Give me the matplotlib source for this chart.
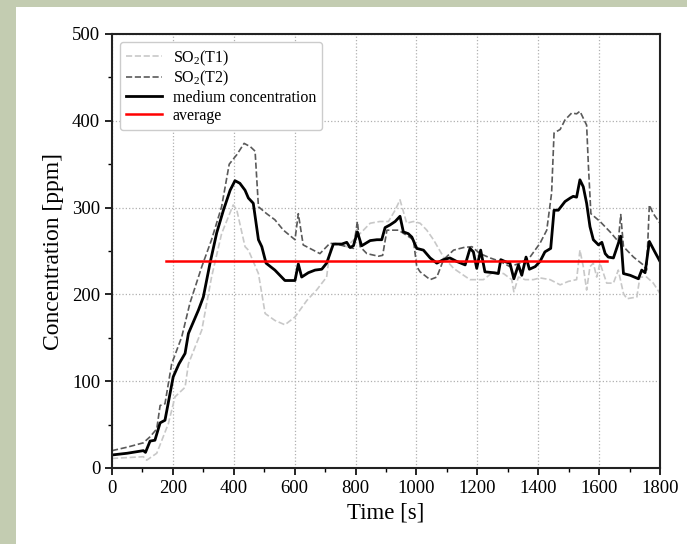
import matplotlib
matplotlib.use("Agg")
import matplotlib.pyplot as plt
from matplotlib.patches import Rectangle

# medium concentration (black solid)
t_mid = [0, 50, 103, 110, 125, 141, 158, 174, 201, 220, 240, 251, 284, 300, 322, 344, 366, 388, 404,
         420, 437, 448, 464, 481, 492, 506, 535, 568, 601, 612, 623, 645, 667, 689, 705, 727, 755, 771,
         782, 793, 806, 820, 848, 870, 886, 897, 913, 930, 946, 957, 973, 985, 1001, 1023, 1045, 1067,
         1088, 1110, 1132, 1160, 1176, 1187, 1198, 1211, 1225, 1253, 1269, 1277, 1297, 1307, 1320, 1335,
         1346, 1360, 1371, 1390, 1406, 1422, 1441, 1452, 1466, 1488, 1505, 1515, 1526, 1537, 1548, 1559,
         1570, 1581, 1598, 1609, 1620, 1630, 1647, 1671, 1680, 1702, 1729, 1740, 1751, 1765, 1783, 1800]
c_mid = [15, 17, 20, 18, 31, 32, 52, 55, 105, 120, 132, 155, 182, 197, 236, 271, 297, 320, 331,
         328, 320, 311, 305, 263, 255, 236, 228, 216, 216, 235, 220, 225, 228, 229, 236, 258, 258, 260,
         254, 256, 272, 256, 262, 263, 263, 277, 280, 284, 290, 272, 270, 266, 253, 251, 242, 236,
         240, 242, 238, 234, 253, 249, 230, 251, 226, 225, 224, 240, 237, 236, 218, 234,
         222, 243, 229, 232, 238, 249, 253, 297, 297, 307, 311, 313, 312, 332, 324, 305,
         278, 263, 257, 260, 247, 243, 242, 267, 224, 222, 218, 228, 225, 261, 249, 238]

# SO2 (T2), dark dashed
t_t2 = [0, 50, 103, 125, 147, 158, 174, 196, 229, 256, 295, 327, 360, 385, 410, 434, 455, 470, 481,
        508, 535, 563, 601, 612, 628, 683, 716, 749, 793, 806, 815, 837, 875, 889, 903, 941, 968, 990,
        1001, 1012, 1045, 1067, 1089, 1122, 1155, 1182, 1209, 1242, 1275, 1307, 1340, 1373, 1406, 1428,
        1444, 1452, 1472, 1488, 1510, 1526, 1537, 1559, 1565, 1573, 1603, 1636, 1663, 1671, 1680, 1713,
        1745, 1756, 1765, 1778, 1800]
c_t2 = [20, 24, 29, 36, 45, 72, 74, 120, 151, 190, 232, 263, 301, 350, 361, 374, 370, 365, 301,
        293, 286, 274, 263, 293, 257, 247, 259, 257, 253, 284, 255, 247, 244, 245, 274, 274, 268, 263,
        232, 226, 217, 220, 240, 251, 254, 255, 247, 242, 238, 232, 236, 243, 259, 274,
        317, 386, 390, 401, 409, 408, 411, 395, 347, 293, 284, 272, 261, 292, 255, 243,
        234, 228, 303, 293, 282]

# SO2 (T1), light dashed
t_t1 = [0, 103, 114, 147, 185, 207, 240, 251, 295, 327, 360, 398, 410, 437, 448, 481, 503, 535, 568,
        601, 640, 672, 705, 716, 733, 771, 826, 848, 880, 908, 930, 946, 968, 990, 1012, 1034, 1056,
        1089, 1122, 1155, 1176, 1220, 1253, 1286, 1313, 1320, 1335, 1357, 1384, 1406, 1439, 1472, 1499,
        1526, 1537, 1548, 1559, 1570, 1581, 1592, 1603, 1625, 1647, 1663, 1680, 1691, 1724, 1734, 1756,
        1778, 1800]
c_t1 = [11, 13, 9, 17, 51, 82, 93, 120, 159, 220, 270, 303, 297, 255, 251, 224, 178, 170, 165,
        174, 193, 205, 220, 251, 259, 255, 274, 282, 284, 284, 297, 309, 282, 284, 282, 274, 263,
        243, 230, 222, 217, 217, 226, 224, 217, 203, 220, 217, 217, 219, 217, 211, 215,
        217, 251, 232, 205, 232, 236, 220, 236, 213, 213, 228, 201, 195, 197, 220, 220,
        213, 201]

avg_value = 238
avg_span = [178, 1625]

plt.rcParams["font.family"] = ["Liberation Serif", "DejaVu Serif"]
plt.rcParams["mathtext.fontset"] = "custom"
plt.rcParams["mathtext.rm"] = "Liberation Serif"
plt.rcParams["mathtext.it"] = "Liberation Serif:italic"

fig = plt.figure(figsize=(6.87, 5.44), dpi=100)
# greenish page border seen on the left and top
fig.patches.append(Rectangle((0, 0), 16 / 687, 1, transform=fig.transFigure,
                             facecolor="#c3ccb1", edgecolor="none", zorder=0))
fig.patches.append(Rectangle((0, 1 - 7 / 544), 1, 7 / 544, transform=fig.transFigure,
                             facecolor="#c3ccb1", edgecolor="none", zorder=0))

ax = fig.add_axes([112 / 687, 76 / 544, 548 / 687, 434 / 544])
ax.plot(t_t1, c_t1, ls="--", color="#c8c8c8", lw=1.2, label="SO$_2$(T1)")
ax.plot(t_t2, c_t2, ls="--", color="#5a5a5a", lw=1.2, label="SO$_2$(T2)")
ax.plot(t_mid, c_mid, color="black", lw=2.0, label="medium concentration")
ax.plot(avg_span, [avg_value, avg_value], color="red", lw=1.8, label="average")

ax.set_xlim(0, 1800)
ax.set_ylim(0, 500)
ax.set_xticks(range(0, 1801, 200))
ax.set_xticks(range(0, 1801, 100), minor=True)
ax.set_yticks(range(0, 501, 100))
ax.set_yticks(range(0, 501, 50), minor=True)
ax.tick_params(axis="both", which="major", labelsize=13.5, length=5, width=1.2, direction="out")
ax.tick_params(axis="both", which="minor", length=3, width=1.0, direction="out")
ax.grid(True, which="major", ls=":", color="#b0b0b0", lw=0.9)
for sp in ax.spines.values():
    sp.set_linewidth(1.5)
    sp.set_color("#222222")

ax.set_xlabel("Time [s]", fontsize=16.5, labelpad=4)
ax.set_ylabel("Concentration [ppm]", fontsize=17, labelpad=6)

ax.legend(loc="upper left", fontsize=11.5, handlelength=2.2, handletextpad=0.7,
          labelspacing=0.1, borderpad=0.4, framealpha=1.0, edgecolor="#cccccc")

fig.savefig("out.png", dpi=100)
